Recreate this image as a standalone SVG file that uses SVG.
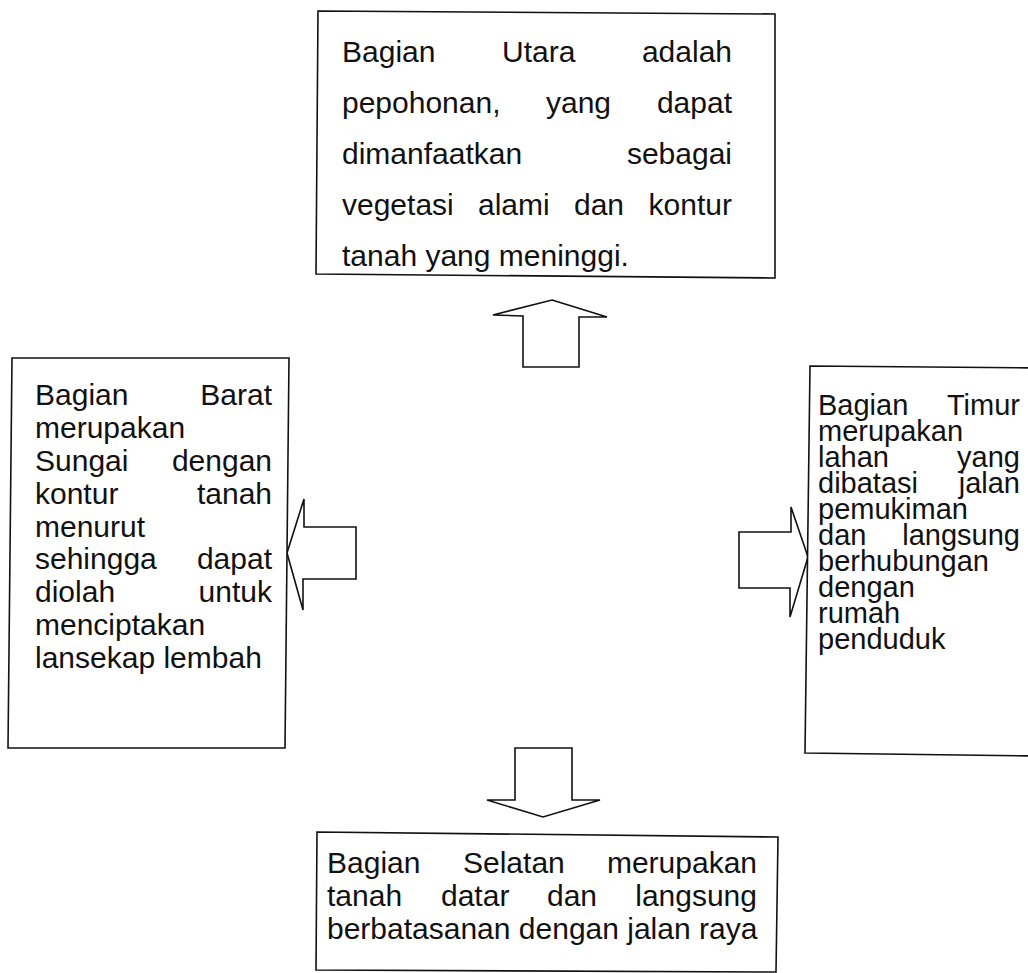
<svg xmlns="http://www.w3.org/2000/svg" width="1028" height="973" viewBox="0 0 1028 973">
<style>
.box{fill:#fff;stroke:#111;stroke-width:1.6}
.arr{fill:#fff;stroke:#111;stroke-width:1.6;stroke-linejoin:miter}
text{font-family:"Liberation Sans",Arial,sans-serif;font-size:30px;fill:#111}
#east text{font-size:29px}
.e{text-anchor:end}
</style>
<rect width="1028" height="973" fill="#fff"/>
<g id="connectors">
<polygon class="arr" points="552,300 607,317 579,317 579,367 523,367 523,316 493,315"/>
<polygon class="arr" points="287,553 304,499 304,527 356,527 356,579 303,579 303,610"/>
<polygon class="arr" points="808,557 791,507 791,532 739,532 739,588 790,588 790,617"/>
<polygon class="arr" points="515,748 572,748 572,800 600,800 543,817 487,800 515,800"/>
</g>
<g id="north">
<polygon class="box" points="318,11 775,14 775,278 316,274"/>
<text x="342" y="62">Bagian</text><text x="502" y="62">Utara</text><text class="e" x="732" y="62">adalah</text>
<text x="342" y="113">pepohonan,</text><text x="546" y="113">yang</text><text class="e" x="732" y="113">dapat</text>
<text x="342" y="164">dimanfaatkan</text><text class="e" x="732" y="164">sebagai</text>
<text x="342" y="215">vegetasi</text><text x="478" y="215">alami</text><text x="574" y="215">dan</text><text class="e" x="732" y="215">kontur</text>
<text x="342" y="266">tanah yang meninggi.</text>
</g>
<g id="west">
<polygon class="box" points="12,358 289,358 285,748 8,748"/>
<text x="35" y="405">Bagian</text><text class="e" x="272" y="405">Barat</text>
<text x="35" y="438">merupakan</text>
<text x="35" y="471">Sungai</text><text class="e" x="272" y="471">dengan</text>
<text x="35" y="504">kontur</text><text class="e" x="272" y="504">tanah</text>
<text x="35" y="537">menurut</text>
<text x="35" y="569">sehingga</text><text class="e" x="272" y="569">dapat</text>
<text x="35" y="602">diolah</text><text class="e" x="272" y="602">untuk</text>
<text x="35" y="635">menciptakan</text>
<text x="35" y="668">lansekap lembah</text>
</g>
<g id="east">
<polygon class="box" points="810,366 1040,368 1040,756 805,753"/>
<text x="818" y="415">Bagian</text><text class="e" x="1020" y="415">Timur</text>
<text x="818" y="441">merupakan</text>
<text x="818" y="467">lahan</text><text class="e" x="1020" y="467">yang</text>
<text x="818" y="493">dibatasi</text><text class="e" x="1020" y="493">jalan</text>
<text x="818" y="519">pemukiman</text>
<text x="818" y="545">dan</text><text class="e" x="1020" y="545">langsung</text>
<text x="818" y="571">berhubungan</text>
<text x="818" y="597">dengan</text>
<text x="818" y="623">rumah</text>
<text x="818" y="649">penduduk</text>
</g>
<g id="south">
<polygon class="box" points="317,832 778,837 776,972 316,970"/>
<text x="327" y="873">Bagian</text><text x="463" y="873">Selatan</text><text class="e" x="757" y="873">merupakan</text>
<text x="327" y="906">tanah</text><text x="441" y="906">datar</text><text x="547" y="906">dan</text><text class="e" x="757" y="906">langsung</text>
<text x="327" y="939">berbatasanan dengan jalan raya</text>
</g>
</svg>
